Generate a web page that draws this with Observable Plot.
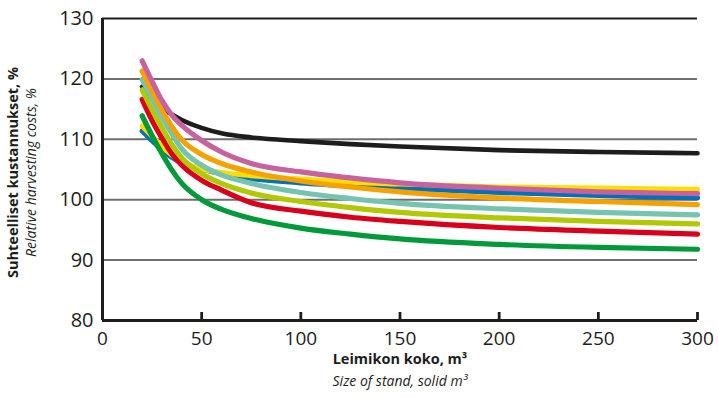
<!DOCTYPE html>
<html>
<head>
<meta charset="utf-8">
<script src="https://cdn.jsdelivr.net/npm/d3@7"></script>
<script src="https://cdn.jsdelivr.net/npm/@observablehq/plot@0.6"></script>
<style>
  body { margin: 0; background: #fff; }
  #chart svg { display: block; }
</style>
</head>
<body>
<div id="chart"></div>
<script>
// Stand size, solid m³
const standSize = [20, 25, 30, 35, 40, 50, 60, 75, 100, 125, 150, 200, 250, 300];

// Relative harvesting costs, %
const seriesBlack  = [118.7, 116.8, 115.2, 114.1, 113.2, 111.9, 111.0, 110.3, 109.7, 109.2, 108.8, 108.2, 107.9, 107.7];
const seriesBlue   = [111.4, 109.8, 108.3, 107.0, 106.1, 105.1, 104.3, 103.5, 102.8, 102.3, 101.9, 101.2, 100.7, 100.3];
const seriesYellow = [112.2, 110.5, 108.8, 107.4, 106.3, 105.1, 104.5, 104.0, 103.4, 102.9, 102.6, 102.1, 101.9, 101.7];
const seriesGreen  = [113.9, 110.6, 107.6, 104.9, 102.7, 100.0,  98.4,  96.9,  95.3,  94.3,  93.5,  92.6,  92.1,  91.8];
const seriesRed    = [116.6, 113.1, 110.2, 107.6, 105.7, 103.2, 101.6,  99.5,  98.1,  97.1,  96.4,  95.4,  94.8,  94.3];
const seriesLime   = [118.2, 114.9, 111.9, 109.1, 106.9, 104.3, 102.7, 101.1,  99.7,  98.7,  97.9,  97.0,  96.4,  96.0];
const seriesTeal   = [119.9, 116.7, 113.6, 110.9, 108.4, 105.7, 104.1, 102.7, 101.2, 100.2,  99.4,  98.5,  97.9,  97.5];
const seriesOrange = [121.3, 118.0, 114.8, 112.1, 109.9, 107.5, 106.0, 104.6, 103.1, 102.1, 101.3, 100.3,  99.7,  99.2];
const seriesPink   = [123.0, 119.6, 116.4, 114.0, 112.3, 109.8, 107.9, 106.0, 104.6, 103.6, 102.8, 101.9, 101.3, 101.0];

const seriesNames  = ["musta", "sininen", "keltainen", "vihreä", "punainen", "limetti", "turkoosi", "oranssi", "pinkki"];
const seriesValues = [seriesBlack, seriesBlue, seriesYellow, seriesGreen, seriesRed, seriesLime, seriesTeal, seriesOrange, seriesPink];
const seriesColors = ["#1d1d1b", "#0072bc", "#ffdd00", "#009a3a", "#d9001b", "#b2c800", "#76c3b0", "#f5a200", "#c8629f"];

const xTicks = [0, 50, 100, 150, 200, 250, 300];
const yTicks = [80, 90, 100, 110, 120, 130];

const xTitle = "Leimikon koko, m³";
const xSubtitle = "Size of stand, solid m³";
const yTitle = "Suhteelliset kustannukset, %";
const ySubtitle = "Relative harvesting costs, %";

const rows = seriesNames.flatMap((name, i) =>
  standSize.map((x, j) => ({series: name, x, y: seriesValues[i][j]}))
);
const blackRows = rows.filter(d => d.series === "musta");
const colorRows = rows.filter(d => d.series !== "musta");

const ink = "#1d1d1b";
const yMin = yTicks[0];
const yMax = yTicks[yTicks.length - 1];

const W = 718, H = 398, mTop = 18, mBottom = 78;
const tickLen = 8;

const chart = Plot.plot({
  width: W,
  height: H,
  marginLeft: 102,
  marginRight: 21,
  marginTop: mTop,
  marginBottom: mBottom,
  style: {fontFamily: "'Open Sans', sans-serif", background: "#fff", color: ink},
  x: {domain: [xTicks[0], xTicks[xTicks.length - 1]]},
  y: {domain: [yMin, yMax]},
  color: {domain: seriesNames, range: seriesColors},
  marks: [
    Plot.ruleY(yTicks.filter(v => v > yMin && v < yMax), {stroke: "#6e6e6e", strokeWidth: 2}),
    Plot.ruleY([yMax], {stroke: ink, strokeWidth: 2}),
    Plot.line(blackRows, {x: "x", y: "y", z: "series", stroke: "series", strokeWidth: 4.6, curve: "monotone-x"}),
    Plot.line(colorRows, {x: "x", y: "y", z: "series", stroke: "series", strokeWidth: 5.2, curve: "monotone-x"}),
    Plot.ruleX([xTicks[0]], {stroke: ink, strokeWidth: 3}),
    Plot.ruleY([yMin], {stroke: ink, strokeWidth: 3}),
    // inward-pointing x ticks (short rules at the bottom of the frame)
    Plot.ruleX(xTicks.slice(1), {insetTop: H - mTop - mBottom - tickLen, stroke: ink, strokeWidth: 2.8}),
    Plot.axisX({ticks: xTicks, tickSize: 0, tickPadding: 11, fontSize: 19, label: null}),
    Plot.axisY({ticks: yTicks, tickSize: 0, tickPadding: 9, fontSize: 20, label: null}),
    Plot.text([xTitle], {text: d => d, frameAnchor: "bottom", lineAnchor: "middle", textAnchor: "middle", dy: 39, fontWeight: "bold", fontSize: 14.5, fill: ink}),
    Plot.text([xSubtitle], {text: d => d, frameAnchor: "bottom", lineAnchor: "middle", textAnchor: "middle", dy: 61, fontStyle: "italic", fontSize: 14, fill: ink}),
    Plot.text([yTitle], {text: d => d, frameAnchor: "left", rotate: -90, textAnchor: "middle", lineAnchor: "middle", dx: -89.5, dy: 3, fontWeight: "bold", fontSize: 14.5, fill: ink}),
    Plot.text([ySubtitle], {text: d => d, frameAnchor: "left", rotate: -90, textAnchor: "middle", lineAnchor: "middle", dx: -71, dy: 3, fontStyle: "italic", fontSize: 14, fill: ink})
  ]
});
document.getElementById("chart").appendChild(chart);
</script>
</body>
</html>
